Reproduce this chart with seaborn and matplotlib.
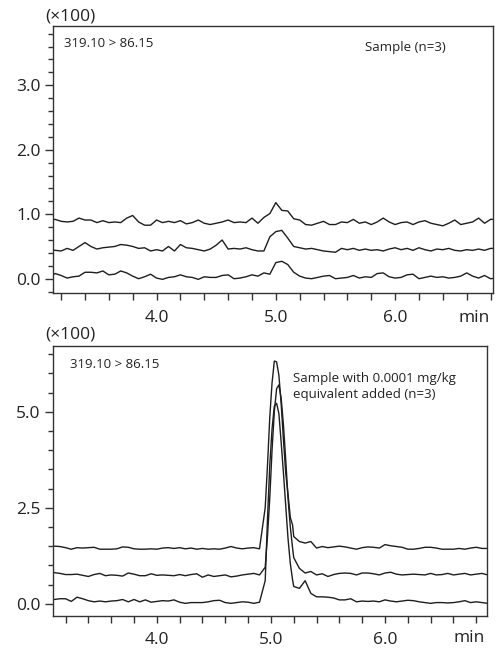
import numpy as np
import pandas as pd
import matplotlib
matplotlib.use('Agg')
import matplotlib.pyplot as plt
from matplotlib.ticker import MultipleLocator, FormatStrFormatter
import seaborn as sns

# retention times (min)
t_top = np.arange(62, 138) * 0.05
t_bot = np.concatenate([
    np.arange(62, 99) * 0.05,
    [4.95, 4.97, 4.99, 5.01, 5.03, 5.05, 5.07, 5.09, 5.11, 5.13, 5.15, 5.17, 5.19],
    np.arange(104, 139) * 0.05,
])

# Sample (n=3), intensity x100
sample_1 = [0.91, 0.92, 0.89, 0.88, 0.89, 0.94, 0.91, 0.91, 0.87, 0.90,
            0.87, 0.88, 0.87, 0.94, 0.98, 0.88, 0.83, 0.83, 0.91, 0.87,
            0.89, 0.87, 0.90, 0.85, 0.87, 0.91, 0.86, 0.84, 0.86, 0.88,
            0.91, 0.87, 0.88, 0.87, 0.94, 0.86, 0.95, 1.01, 1.18, 1.06,
            1.05, 0.93, 0.91, 0.84, 0.83, 0.86, 0.89, 0.84, 0.84, 0.88,
            0.87, 0.92, 0.86, 0.88, 0.84, 0.88, 0.94, 0.88, 0.84, 0.87,
            0.88, 0.84, 0.88, 0.90, 0.86, 0.84, 0.82, 0.86, 0.91, 0.84,
            0.86, 0.88, 0.94, 0.86, 0.92, 0.92]
sample_2 = [0.45, 0.44, 0.43, 0.47, 0.44, 0.50, 0.56, 0.50, 0.46, 0.48,
            0.49, 0.50, 0.53, 0.52, 0.50, 0.47, 0.48, 0.43, 0.45, 0.43,
            0.50, 0.43, 0.53, 0.48, 0.47, 0.45, 0.43, 0.46, 0.52, 0.60,
            0.46, 0.47, 0.46, 0.48, 0.45, 0.43, 0.43, 0.65, 0.73, 0.75,
            0.63, 0.50, 0.48, 0.46, 0.47, 0.45, 0.43, 0.42, 0.41, 0.47,
            0.45, 0.47, 0.44, 0.46, 0.44, 0.45, 0.43, 0.46, 0.48, 0.45,
            0.47, 0.44, 0.48, 0.45, 0.43, 0.46, 0.45, 0.47, 0.44, 0.43,
            0.45, 0.44, 0.46, 0.44, 0.47, 0.47]
sample_3 = [0.03, 0.08, 0.05, 0.01, 0.03, 0.04, 0.10, 0.10, 0.09, 0.12,
            0.06, 0.07, 0.12, 0.09, 0.04, 0.00, 0.03, 0.07, 0.01, -0.01,
            0.02, 0.03, 0.06, 0.03, 0.02, -0.01, 0.03, 0.02, 0.02, 0.05,
            0.06, 0.00, 0.01, 0.03, 0.06, 0.04, 0.09, 0.07, 0.25, 0.27,
            0.22, 0.10, 0.04, 0.01, 0.00, 0.02, 0.04, 0.05, 0.00, 0.01,
            0.02, 0.05, 0.01, 0.03, 0.02, 0.08, 0.09, 0.03, 0.01, 0.02,
            0.06, 0.07, 0.00, 0.02, 0.04, 0.02, 0.03, 0.01, 0.02, 0.04,
            0.09, 0.04, 0.01, 0.05, 0.00, 0.01]

# Sample with 0.0001 mg/kg equivalent added (n=3), intensity x100
spiked_1 = [1.50, 1.49, 1.46, 1.42, 1.46, 1.45, 1.46, 1.47, 1.42, 1.42,
            1.42, 1.43, 1.48, 1.47, 1.43, 1.42, 1.42, 1.43, 1.42, 1.45,
            1.46, 1.44, 1.46, 1.43, 1.45, 1.42, 1.44, 1.42, 1.43, 1.42,
            1.45, 1.49, 1.45, 1.43, 1.45, 1.46, 1.43,
            2.50, 3.60, 4.85, 5.75, 6.32, 6.30, 5.95, 5.20, 4.26, 3.40, 2.85, 2.25, 2.05,
            1.75, 1.62, 1.58, 1.62, 1.45, 1.49, 1.46, 1.48, 1.50, 1.48,
            1.45, 1.42, 1.46, 1.48, 1.47, 1.45, 1.54, 1.51, 1.49, 1.47,
            1.42, 1.42, 1.44, 1.47, 1.47, 1.45, 1.42, 1.42, 1.42, 1.44,
            1.42, 1.45, 1.47, 1.44, 1.44]
spiked_2 = [0.81, 0.79, 0.76, 0.76, 0.77, 0.74, 0.71, 0.76, 0.79, 0.73,
            0.75, 0.74, 0.72, 0.80, 0.77, 0.73, 0.73, 0.78, 0.74, 0.75,
            0.74, 0.73, 0.76, 0.73, 0.76, 0.78, 0.69, 0.75, 0.71, 0.73,
            0.75, 0.70, 0.72, 0.75, 0.77, 0.79, 0.75,
            0.95, 1.75, 2.75, 4.00, 5.00, 5.60, 5.70, 5.35, 4.65, 3.75, 2.75, 2.00, 1.45,
            1.20, 0.92, 0.80, 0.84, 0.75, 0.78, 0.71, 0.76, 0.79, 0.80,
            0.79, 0.75, 0.80, 0.80, 0.78, 0.75, 0.80, 0.82, 0.77, 0.75,
            0.76, 0.77, 0.76, 0.75, 0.79, 0.75, 0.76, 0.79, 0.75, 0.77,
            0.79, 0.75, 0.77, 0.79, 0.75]
spiked_3 = [0.11, 0.13, 0.13, 0.06, 0.17, 0.13, 0.08, 0.05, 0.07, 0.05,
            0.07, 0.08, 0.11, 0.05, 0.11, 0.05, 0.10, 0.04, 0.06, 0.08,
            0.07, 0.10, 0.04, 0.01, 0.03, 0.03, 0.03, 0.05, 0.08, 0.09,
            0.03, 0.01, 0.03, 0.05, 0.04, 0.01, 0.04,
            0.60, 2.20, 3.60, 4.55, 5.15, 5.22, 4.95, 4.20, 3.40, 2.55, 1.70, 1.05, 0.62,
            0.45, 0.40, 0.60, 0.27, 0.18, 0.18, 0.17, 0.15, 0.10, 0.10,
            0.13, 0.05, 0.07, 0.06, 0.07, 0.05, 0.10, 0.07, 0.05, 0.07,
            0.09, 0.08, 0.05, 0.03, 0.01, 0.03, 0.03, 0.02, 0.03, 0.05,
            0.08, 0.03, 0.05, 0.03, 0.01]

top = pd.DataFrame({'t': np.tile(t_top, 3),
                    'y': sample_1 + sample_2 + sample_3,
                    'run': np.repeat(['1', '2', '3'], len(t_top))})
bot = pd.DataFrame({'t': np.tile(t_bot, 3),
                    'y': spiked_1 + spiked_2 + spiked_3,
                    'run': np.repeat(['1', '2', '3'], len(t_bot))})

sns.set_style('ticks')
plt.rcParams['font.family'] = ['Open Sans', 'DejaVu Sans']

fig = plt.figure(figsize=(5.01, 6.48), dpi=100)
ax1 = fig.add_axes([0.1058, 0.5478, 0.8776, 0.412])
ax2 = fig.add_axes([0.1058, 0.0498, 0.8669, 0.4167])

line_col = '#1e1e1e'
for ax, df in [(ax1, top), (ax2, bot)]:
    sns.lineplot(data=df, x='t', y='y', units='run', estimator=None, sort=False,
                 color=line_col, lw=1.0, ax=ax, legend=False)
    ax.set_xlabel('')
    ax.set_ylabel('')
    for s in ax.spines.values():
        s.set_color('#333333')
        s.set_linewidth(1.0)
    ax.xaxis.set_major_locator(MultipleLocator(1.0))
    ax.xaxis.set_minor_locator(MultipleLocator(0.2))
    ax.xaxis.set_major_formatter(FormatStrFormatter('%.1f'))
    ax.yaxis.set_major_formatter(FormatStrFormatter('%.1f'))
    ax.tick_params(axis='x', which='both', direction='out', length=5, width=1.0,
                   color='#333333', pad=7, labelsize=12.5, labelcolor='#222222')
    ax.tick_params(axis='y', which='major', direction='out', length=6, width=1.0,
                   color='#333333', pad=3, labelsize=12.5, labelcolor='#222222')
    ax.tick_params(axis='y', which='minor', direction='out', length=3.5, width=1.0,
                   color='#333333')

ax1.set_xlim(3.132, 6.818)
ax1.set_ylim(-0.222, 3.918)
ax1.yaxis.set_major_locator(MultipleLocator(1.0))
ax1.yaxis.set_minor_locator(MultipleLocator(0.2))

ax2.set_xlim(3.090, 6.897)
ax2.set_ylim(-0.3125, 6.72)
ax2.yaxis.set_major_locator(MultipleLocator(2.5))
ax2.yaxis.set_minor_locator(MultipleLocator(0.5))

txt = '#222222'
ax1.text(-0.018, 1.037, '(×100)', transform=ax1.transAxes, ha='left', va='center',
         fontsize=12.5, color=txt)
ax2.text(-0.018, 1.040, '(×100)', transform=ax2.transAxes, ha='left', va='center',
         fontsize=12.5, color=txt)
ax1.text(0.026, 0.933, '319.10 > 86.15', transform=ax1.transAxes, ha='left', va='center',
         fontsize=9.5, color=txt)
ax2.text(0.039, 0.932, '319.10 > 86.15', transform=ax2.transAxes, ha='left', va='center',
         fontsize=9.5, color=txt)
ax1.text(0.71, 0.921, 'Sample (n=3)', transform=ax1.transAxes, ha='left', va='center',
         fontsize=9.5, color=txt)
ax2.text(0.552, 0.85, 'Sample with 0.0001 mg/kg\nequivalent added (n=3)',
         transform=ax2.transAxes, ha='left', va='center', fontsize=9.5, color=txt,
         linespacing=1.3)
ax1.text(0.994, -0.094, 'min', transform=ax1.transAxes, ha='right', va='center',
         fontsize=12.5, color=txt)
ax2.text(0.995, -0.083, 'min', transform=ax2.transAxes, ha='right', va='center',
         fontsize=12.5, color=txt)

fig.savefig('out.png', dpi=100)
